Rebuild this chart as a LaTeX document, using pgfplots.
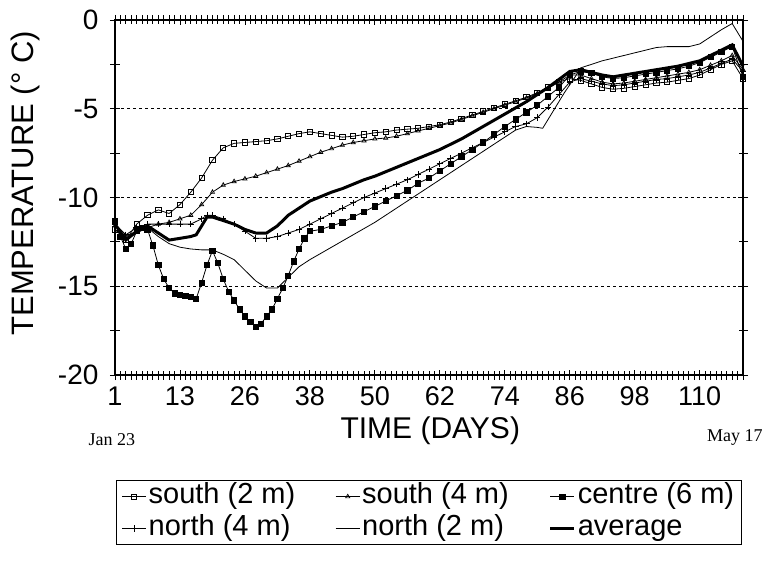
\documentclass[border=0pt]{standalone}
\usepackage{pgfplots}
\pgfplotsset{compat=1.18}
\usepackage{fontspec}
\setmainfont{Liberation Sans}
\newfontfamily\seriffont{Liberation Serif}

\begin{document}
\begin{tikzpicture}
\useasboundingbox (0,0) rectangle (767pt,560pt);
\begin{axis}[
 at={(115pt,185pt)}, anchor=south west,
 scale only axis, width=628pt, height=355pt,
 xmin=1, xmax=117, ymin=-20, ymax=0,
 clip=false,
 xtick={1,13,25,37,49,61,73,85,97,109},
 xticklabels={1,13,26,38,50,62,74,86,98,110},
 minor xtick={1,2,...,117},
 ytick={-20,-15,-10,-5,0},
 yticklabels={-20,-15,-10,-5,0},
 minor ytick={-17.5,-12.5,-7.5,-2.5},
 tick align=center,
 major tick length=10pt, minor tick length=9pt,
 every tick/.style={black, line width=0.8pt},
 ymajorgrids, grid style={black, dash pattern=on 3pt off 3pt, line width=0.9pt},
 axis line style={line width=1.3pt},
 xticklabel style={font=\fontsize{27}{30}\selectfont, yshift=-3pt},
 yticklabel style={font=\fontsize{28}{30}\selectfont, xshift=-8pt},
 xlabel={TIME (DAYS)},
 xlabel style={at={(axis description cs:0.502,-0.158)}, anchor=center, font=\fontsize{30}{32}\selectfont},
 ylabel={TEMPERATURE (° C)},
 ylabel style={at={(axis description cs:-0.143,0.54)}, anchor=center, font=\fontsize{31}{33}\selectfont},
 legend columns=3,
 legend cell align=left,
 legend style={at={(0.5,-0.296)}, anchor=north, draw=black, line width=1.2pt,
   font=\fontsize{29}{32}\selectfont, inner xsep=5pt, inner ysep=2pt,
   nodes={text height=21pt, text depth=7pt, inner ysep=0pt},
   row sep=4pt,
   /tikz/every even column/.append style={column sep=38pt}},
 legend image code/.code={\draw[mark repeat=2,mark phase=2,#1] plot coordinates {(0pt,0pt)(12pt,0pt)(24pt,0pt)};},
]
% south (2 m)
\addplot[black, line width=0.8pt, mark=square, mark size=2.6pt, mark options={solid, fill=white, line width=0.8pt}] coordinates {
(1,-11.8)(3,-12.4)(5,-11.5)(7,-11.0)(9,-10.7)(11,-10.9)(13,-10.4)(15,-9.7)(17,-8.9)(19,-7.9)
(21,-7.2)(23,-6.95)(25,-6.9)(27,-6.85)(29,-6.8)(31,-6.7)(33,-6.55)(35,-6.4)(37,-6.3)(39,-6.4)
(41,-6.5)(43,-6.6)(45,-6.55)(47,-6.45)(49,-6.35)(51,-6.3)(53,-6.2)(55,-6.15)(57,-6.1)(59,-6.0)
(61,-5.9)(63,-5.75)(65,-5.55)(67,-5.35)(69,-5.15)(71,-4.95)(73,-4.75)(75,-4.55)(77,-4.35)(79,-4.1)
(81,-3.8)(83,-3.5)(85,-3.3)(87,-3.4)(89,-3.6)(91,-3.8)(93,-3.9)(95,-3.85)(97,-3.75)(99,-3.65)
(101,-3.55)(103,-3.5)(105,-3.4)(107,-3.3)(109,-3.1)(111,-2.8)(113,-2.5)(115,-2.3)(117,-3.3)};
\addlegendentry{south (2 m)}
% south (4 m)
\addplot[black, line width=0.8pt, mark=triangle, mark size=2.4pt, mark options={solid, fill=white, line width=0.7pt}] coordinates {
(1,-11.6)(3,-12.2)(5,-11.9)(7,-11.7)(9,-11.5)(11,-11.4)(13,-11.2)(15,-11.0)(17,-10.4)(19,-9.7)
(21,-9.3)(23,-9.1)(25,-8.95)(27,-8.8)(29,-8.6)(31,-8.4)(33,-8.2)(35,-7.95)(37,-7.7)(39,-7.45)
(41,-7.25)(43,-7.05)(45,-6.9)(47,-6.8)(49,-6.7)(51,-6.65)(53,-6.55)(55,-6.4)(57,-6.25)(59,-6.1)
(61,-5.95)(63,-5.8)(65,-5.6)(67,-5.4)(69,-5.2)(71,-5.0)(73,-4.8)(75,-4.6)(77,-4.4)(79,-4.15)
(81,-3.85)(83,-3.5)(85,-3.1)(87,-3.1)(89,-3.3)(91,-3.5)(93,-3.6)(95,-3.55)(97,-3.45)(99,-3.35)
(101,-3.25)(103,-3.15)(105,-3.05)(107,-2.95)(109,-2.8)(111,-2.55)(113,-2.3)(115,-2.0)(117,-2.8)};
\addlegendentry{south (4 m)}
% centre (6 m)
\addplot[black, line width=0.8pt, mark=square*, mark size=2.6pt, mark options={solid}] coordinates {
(1,-11.3)(2,-12.2)(3,-12.9)(4,-12.6)(5,-11.9)(6,-11.7)(7,-11.8)(8,-12.7)(9,-13.8)(10,-14.6)
(11,-15.1)(12,-15.4)(13,-15.5)(14,-15.55)(15,-15.6)(16,-15.7)(17,-14.8)(18,-13.8)(19,-13.0)(20,-13.7)
(21,-14.6)(22,-15.3)(23,-15.8)(24,-16.3)(25,-16.7)(26,-17.0)(27,-17.3)(28,-17.1)(29,-16.7)(30,-16.3)
(31,-15.7)(32,-15.1)(33,-14.4)(34,-13.6)(35,-12.9)(36,-12.3)(37,-11.9)(39,-11.8)(41,-11.6)(43,-11.4)
(45,-11.1)(47,-10.8)(49,-10.5)(51,-10.2)(53,-9.9)(55,-9.6)(57,-9.2)(59,-8.9)(61,-8.5)(63,-8.1)
(65,-7.7)(67,-7.3)(69,-6.9)(71,-6.45)(73,-6.0)(75,-5.6)(77,-5.2)(79,-4.8)(81,-4.3)(83,-3.8)
(85,-3.1)(87,-2.9)(89,-3.0)(91,-3.2)(93,-3.3)(95,-3.25)(97,-3.15)(99,-3.05)(101,-2.95)(103,-2.85)
(105,-2.75)(107,-2.6)(109,-2.4)(111,-2.1)(113,-1.8)(115,-1.5)(117,-3.2)};
\addlegendentry{centre (6 m)}
% north (4 m)
\addplot[black, line width=0.8pt, mark=+, mark size=3.2pt, mark options={solid, line width=0.8pt}] coordinates {
(1,-11.5)(3,-12.1)(5,-11.7)(7,-11.5)(9,-11.5)(11,-11.5)(13,-11.5)(15,-11.5)(17,-11.2)(18,-11.0)
(19,-11.0)(21,-11.2)(23,-11.5)(25,-11.9)(27,-12.3)(29,-12.3)(31,-12.2)(33,-12.0)(35,-11.8)(37,-11.5)
(39,-11.2)(41,-10.9)(43,-10.6)(45,-10.3)(47,-10.0)(49,-9.75)(51,-9.5)(53,-9.25)(55,-9.0)(57,-8.7)
(59,-8.4)(61,-8.1)(63,-7.8)(65,-7.5)(67,-7.2)(69,-6.9)(71,-6.6)(73,-6.3)(75,-6.0)(77,-5.85)
(79,-5.5)(81,-4.9)(83,-4.2)(85,-3.5)(87,-3.3)(89,-3.45)(91,-3.6)(93,-3.7)(95,-3.65)(97,-3.55)
(99,-3.45)(101,-3.35)(103,-3.3)(105,-3.2)(107,-3.1)(109,-2.95)(111,-2.7)(113,-2.45)(115,-2.2)(117,-2.9)};
\addlegendentry{north (4 m)}
% north (2 m)
\addplot[black, line width=0.8pt, no marks] coordinates {
(1,-11.8)(3,-12.3)(5,-12.0)(7,-11.7)(9,-12.2)(11,-12.6)(13,-12.8)(15,-12.9)(17,-12.95)(19,-12.95)
(21,-13.2)(23,-13.5)(25,-14.1)(27,-14.7)(29,-15.1)(31,-15.1)(33,-14.5)(35,-13.9)(37,-13.5)(39,-13.15)
(41,-12.8)(43,-12.45)(45,-12.1)(47,-11.75)(49,-11.4)(51,-11.0)(53,-10.6)(55,-10.2)(57,-9.8)(59,-9.4)
(61,-9.0)(63,-8.6)(65,-8.2)(67,-7.8)(69,-7.4)(71,-7.0)(73,-6.6)(75,-6.2)(77,-6.0)(79,-6.05)
(80,-6.1)(82,-5.1)(84,-4.1)(86,-3.2)(87,-2.7)(89,-2.5)(91,-2.3)(93,-2.15)(95,-2.0)(97,-1.85)
(99,-1.7)(101,-1.55)(103,-1.5)(105,-1.5)(107,-1.5)(109,-1.35)(111,-0.95)(113,-0.55)(115,-0.2)(117,-1.2)};
\addlegendentry{north (2 m)}
% average
\addplot[black, line width=3pt, no marks] coordinates {
(1,-11.5)(3,-12.4)(5,-11.9)(7,-11.6)(9,-12.0)(11,-12.4)(13,-12.3)(15,-12.2)(16,-12.1)(17,-11.6)
(18,-11.1)(19,-11.1)(21,-11.3)(23,-11.5)(25,-11.8)(27,-12.0)(29,-12.0)(31,-11.6)(33,-11.0)(35,-10.6)
(37,-10.2)(39,-9.95)(41,-9.7)(43,-9.5)(45,-9.25)(47,-9.0)(49,-8.8)(51,-8.55)(53,-8.3)(55,-8.05)
(57,-7.8)(59,-7.55)(61,-7.3)(63,-7.0)(65,-6.7)(67,-6.35)(69,-6.0)(71,-5.65)(73,-5.3)(75,-4.95)
(77,-4.6)(79,-4.2)(81,-3.8)(83,-3.35)(85,-2.9)(87,-2.8)(89,-2.95)(91,-3.1)(93,-3.2)(95,-3.1)
(97,-3.0)(99,-2.9)(101,-2.8)(103,-2.7)(105,-2.6)(107,-2.45)(109,-2.3)(111,-2.0)(113,-1.7)(115,-1.4)(117,-2.6)};
\addlegendentry{average}
\node[font=\seriffont\fontsize{18}{20}\selectfont] at (axis description cs:-0.005,-0.183) {Jan 23};
\node[font=\seriffont\fontsize{18}{20}\selectfont] at (axis description cs:0.987,-0.175) {May 17};
\end{axis}
\end{tikzpicture}
\end{document}
